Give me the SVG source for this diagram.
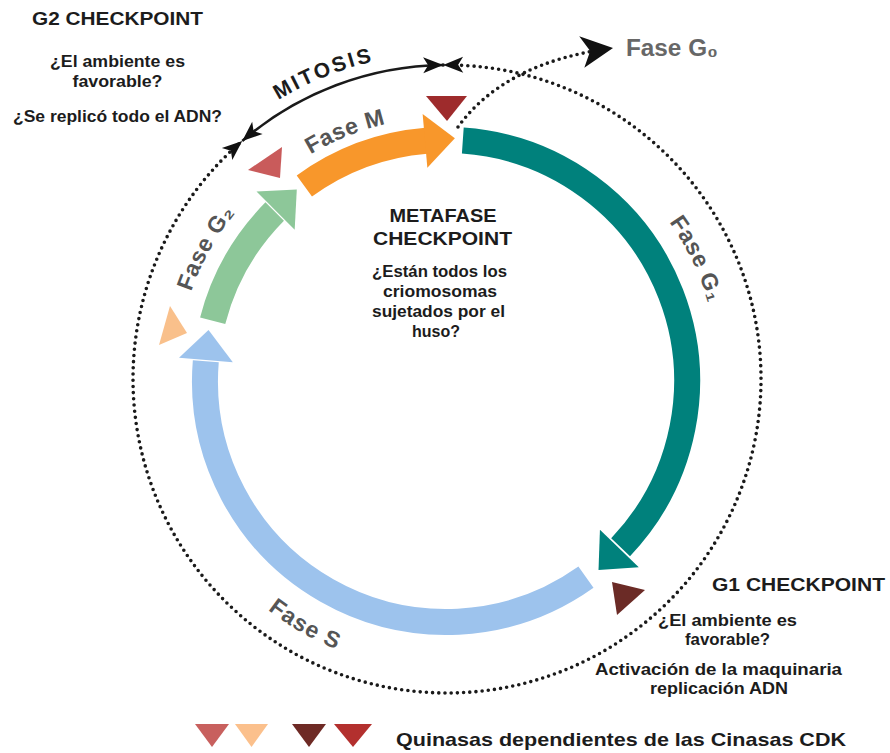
<svg xmlns="http://www.w3.org/2000/svg" width="890" height="753" viewBox="0 0 890 753">
<style>
.t{font-family:"Liberation Sans",Arial,sans-serif;font-weight:bold;fill:#1c1c1c}
.ti{font-size:19px}
.bd{font-size:16px}
.lbl{font-family:"Liberation Sans","DejaVu Sans",Arial,sans-serif;font-weight:bold;font-size:23px;fill:#555}
.dot{fill:none;stroke:#1a1a1a;stroke-width:3.6;stroke-linecap:round;stroke-dasharray:0 6.2}
.sol{fill:none;stroke:#1a1a1a;stroke-width:2.6}
.band{fill:none;stroke-width:26;stroke-linecap:butt}
</style>
<defs>
<marker id="ah" markerUnits="userSpaceOnUse" viewBox="-2 -10 24 20" markerWidth="24" markerHeight="20" refX="20" refY="0" orient="auto-start-reverse">
<path d="M0,-8 L20,0 L0,8 L5,0 Z" fill="#111"/>
</marker>
<marker id="ahBig" markerUnits="userSpaceOnUse" viewBox="-2 -18 36 36" markerWidth="36" markerHeight="36" refX="32" refY="0" orient="auto">
<path d="M0,-16 L32,0 L1,16 L9,0 Z" fill="#111"/>
</marker>
<path id="pM" d="M243.76,211.30 A264,264 0 0 1 473.60,118.45"/>
<path id="pG2" d="M176,381 A270,270 0 0 1 302.9,152"/>
<path id="pG1" d="M603.2,156.6 A274,274 0 0 1 719.6,395.3"/>
<path id="pS" d="M194.85,526 A290,290 0 0 0 446,671"/>
<path id="pMit" d="M228.86,136.74 A326,326 0 0 1 435.62,53.20"/>
</defs>

<g id="connectors">
<path class="dot" d="M443.16,65.02 A314,314 0 1 1 242.24,140.95" marker-start="url(#ah)" marker-end="url(#ah)"/>
<path class="sol" d="M242.24,140.95 A314,314 0 0 1 443.16,65.02" marker-start="url(#ah)" marker-end="url(#ah)"/>
<path class="dot" d="M458,127 Q505,62 613,48" marker-end="url(#ahBig)"/>
</g>

<g id="fase-g1">
<path class="band" stroke="#00817c" d="M462.81,140.59 A241,241 0 0 1 620.6,547.2"/>
<polygon fill="#00817c" points="638.78,567.17 599.94,529.66 598.52,569.99"/>
</g>
<g id="fase-s">
<path class="band" stroke="#9dc3ed" d="M585.95,577.20 A241,241 0 0 1 205.8,361.2"/>
<polygon fill="#9dc3ed" points="179.02,357.64 232.82,362.35 208.53,330.10"/>
</g>
<g id="fase-g2">
<path class="band" stroke="#8dc799" d="M212.68,320.66 A241,241 0 0 1 274.7,211.5"/>
<polygon fill="#8dc799" points="256.50,191.50 294.68,229.68 296.80,189.38"/>
</g>
<g id="fase-m">
<path class="band" stroke="#f8972b" d="M304.34,186.03 A241,241 0 0 1 426.2,140.8"/>
<polygon fill="#f8972b" points="422.64,114.02 427.35,167.82 454.88,138.31"/>
</g>

<g id="phase-labels">
<text class="lbl" letter-spacing="0.6"><textPath href="#pM" startOffset="50%" text-anchor="middle">Fase M</textPath></text>
<text class="lbl" letter-spacing="0.6"><textPath href="#pG2" startOffset="50%" text-anchor="middle">Fase G₂</textPath></text>
<text class="lbl" letter-spacing="0.6"><textPath href="#pG1" startOffset="50%" text-anchor="middle">Fase G₁</textPath></text>
<text class="lbl" letter-spacing="1"><textPath href="#pS" startOffset="50%" text-anchor="middle">Fase S</textPath></text>
<text class="t" font-size="21" fill="#333" letter-spacing="2.6"><textPath href="#pMit" startOffset="50%" text-anchor="middle">MITOSIS</textPath></text>
<text class="lbl" x="626" y="56" font-size="22" style="fill:#676767" textLength="92" lengthAdjust="spacingAndGlyphs">Fase G₀</text>
</g>

<g id="cdk-markers">
<polygon fill="#9e2b2c" points="426,96 467,96 447,121"/>
<polygon fill="#c95b5b" points="248,170 282,147 280,178"/>
<polygon fill="#f9c08b" points="170,306 187,333 159,345"/>
<polygon fill="#6b2b26" points="612,582 645,590 617,615"/>
</g>

<g id="g2-checkpoint" class="t" text-anchor="middle">
<text class="ti" x="117.5" y="25" textLength="171" lengthAdjust="spacingAndGlyphs">G2 CHECKPOINT</text>
<text class="bd" x="117.5" y="67" textLength="135" lengthAdjust="spacingAndGlyphs">¿El ambiente es</text>
<text class="bd" x="117.5" y="87" textLength="90" lengthAdjust="spacingAndGlyphs">favorable?</text>
<text class="bd" x="117.5" y="122" textLength="209" lengthAdjust="spacingAndGlyphs">¿Se replicó todo el ADN?</text>
</g>

<g id="metafase-checkpoint" class="t" text-anchor="middle">
<text class="ti" x="443" y="222" textLength="107" lengthAdjust="spacingAndGlyphs">METAFASE</text>
<text class="ti" x="442.5" y="245" textLength="139" lengthAdjust="spacingAndGlyphs">CHECKPOINT</text>
<text class="bd" x="439.5" y="277" textLength="135" lengthAdjust="spacingAndGlyphs">¿Están todos los</text>
<text class="bd" x="440" y="297" textLength="114" lengthAdjust="spacingAndGlyphs">criomosomas</text>
<text class="bd" x="438.5" y="317" textLength="133" lengthAdjust="spacingAndGlyphs">sujetados por el</text>
<text class="bd" x="436" y="337" textLength="48" lengthAdjust="spacingAndGlyphs">huso?</text>
</g>

<g id="g1-checkpoint" class="t" text-anchor="middle">
<text class="ti" x="798.5" y="591" textLength="173" lengthAdjust="spacingAndGlyphs">G1 CHECKPOINT</text>
<text class="bd" x="727.5" y="626" textLength="139" lengthAdjust="spacingAndGlyphs">¿El ambiente es</text>
<text class="bd" x="727.5" y="645" textLength="85" lengthAdjust="spacingAndGlyphs">favorable?</text>
<text class="bd" x="718.5" y="675" textLength="247" lengthAdjust="spacingAndGlyphs">Activación de la maquinaria</text>
<text class="bd" x="719" y="694" textLength="138" lengthAdjust="spacingAndGlyphs">replicación ADN</text>
</g>

<g id="legend">
<polygon fill="#c8605e" points="195,724 229,724 212,747"/>
<polygon fill="#fbc08c" points="235,724 268,724 251.5,747"/>
<polygon fill="#6e2a25" points="292,724 326,724 309,747"/>
<polygon fill="#b3302e" points="334,724 372,724 353,747"/>
<text class="t" x="396" y="746" font-size="19" textLength="450" lengthAdjust="spacingAndGlyphs">Quinasas dependientes de las Cinasas CDK</text>
</g>
</svg>
